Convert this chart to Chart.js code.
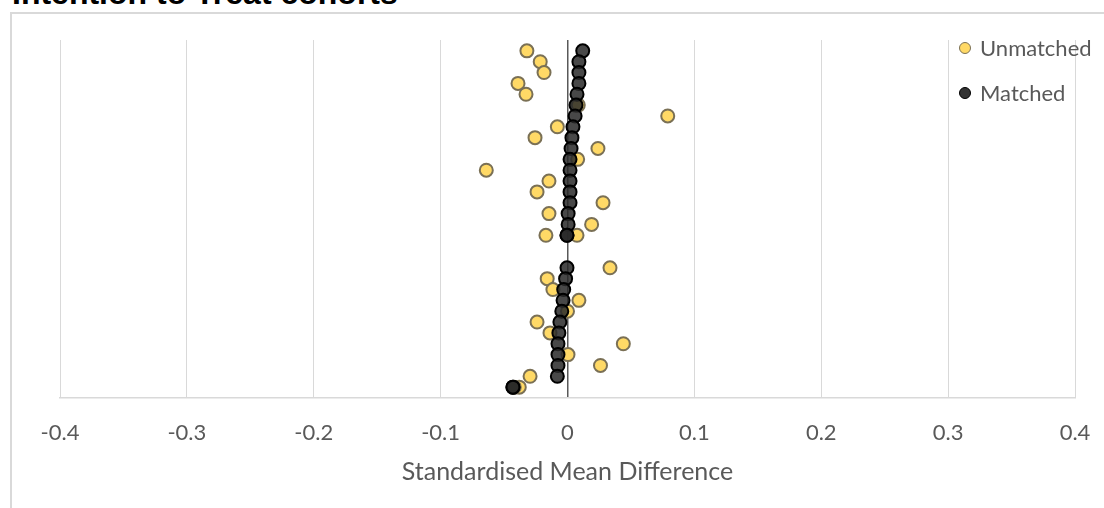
<!DOCTYPE html>
<html>
<head>
<meta charset="utf-8">
<script src="https://cdn.jsdelivr.net/npm/chart.js@4.4.1/dist/chart.umd.min.js"></script>
<style>
  body { margin: 0; width: 1104px; height: 508px; overflow: hidden; position: relative; background: #fff; }
  #title { position: absolute; left: 12px; top: -22px; font: bold 32px "Liberation Sans", Arial, sans-serif; line-height: 31px; color: #000; white-space: nowrap; }
  #frame { position: absolute; left: 10px; top: 12px; width: 1200px; height: 600px; border-left: 2px solid #d9d9d9; border-top: 2px solid #d9d9d9; }
  #chart { position: absolute; left: 0; top: 0; }
  #legend { position: absolute; left: 959px; top: 25px; font: 22px Lato, sans-serif; color: #595959; }
  .item { height: 45px; display: flex; align-items: center; }
  .mark { width: 10px; height: 10px; border-radius: 50%; margin-right: 9px; border: 1.5px solid; }
</style>
</head>
<body>
<div id="title">Intention to Treat cohorts</div>
<div id="frame"></div>
<canvas id="chart" width="1104" height="508"></canvas>
<div id="legend">
  <div class="item"><span class="mark" style="background:#ffd966;border-color:#7a7055"></span>Unmatched</div>
  <div class="item"><span class="mark" style="background:#333;border-color:#000"></span>Matched</div>
</div>
<script>
// row position of each covariate (1 = top), 19 and 20 are empty
const rows = [1, 2, 3, 4, 5, 6, 7, 8, 9, 10, 11, 12, 13, 14, 15, 16, 17, 18, 18,
  21, 22, 23, 24, 25, 26, 27, 28, 29, 30, 31, 32, 32];

const smdUnmatched = [-0.032, -0.0215, -0.0185, -0.039, -0.0327, 0.0085, 0.079, -0.008, -0.0256, 0.024,
  0.008, -0.064, -0.0146, -0.024, 0.028, -0.0146, 0.019, -0.017, 0.0075,
  0.0335, -0.016, -0.0115, 0.009, 0.0, -0.024, -0.0138, 0.044, 0.0004, 0.026, -0.0295, -0.038, -0.042];

const smdMatched = [0.012, 0.009, 0.009, 0.009, 0.0075, 0.0067, 0.006, 0.0043, 0.0035, 0.0028,
  0.002, 0.002, 0.002, 0.002, 0.002, 0.0005, 0.0005, -0.0004, -0.0004,
  -0.0004, -0.0015, -0.003, -0.0035, -0.0045, -0.006, -0.0068, -0.0075, -0.0075, -0.0075, -0.008, -0.043, -0.043];

const xTicks = [-0.4, -0.3, -0.2, -0.1, 0, 0.1, 0.2, 0.3, 0.4];

const grey = '#595959';
const font = 'Lato, sans-serif';

const data = {
  datasets: [
    {
      label: 'Unmatched',
      data: smdUnmatched.map((v, i) => ({x: v, y: rows[i]})),
      backgroundColor: '#ffd966',
      borderColor: '#7a7055',
      order: 1,
    },
    {
      label: 'Matched',
      data: smdMatched.map((v, i) => ({x: v, y: rows[i]})),
      backgroundColor: 'rgba(40, 40, 40, 0.85)',
      borderColor: '#000',
      order: 0,
    }
  ]
};

const config = {
  type: 'scatter',
  data: data,
  options: {
    responsive: false,
    devicePixelRatio: 1,
    animation: false,
    layout: { padding: { left: 60, right: 29, top: 40, bottom: 0 } },
    elements: { point: { radius: 6.5, borderWidth: 2, hoverRadius: 6.5 } },
    scales: {
      x: {
        type: 'linear',
        min: -0.4,
        max: 0.4,
        afterBuildTicks: s => { s.ticks = xTicks.map(v => ({value: v})); },
        afterFit: s => {
          s.height = 110;
          s.paddingLeft = 0;
          s.paddingRight = 0;
        },
        ticks: {
          padding: 22,
          color: grey,
          font: { family: font, size: 22 },
          callback: v => String(+v.toFixed(1)),
        },
        grid: {
          drawTicks: false,
          color: c => Math.abs(c.tick.value) < 1e-9 ? grey : '#d9d9d9',
          lineWidth: c => Math.abs(c.tick.value) < 1e-9 ? 1.5 : 1,
        },
        border: { color: '#d9d9d9', width: 1.5 },
        title: {
          display: true,
          text: 'Standardised Mean Difference',
          color: grey,
          font: { family: font, size: 25 },
          padding: { top: 0, bottom: 21 },
        },
      },
      y: {
        type: 'linear',
        min: 0,
        max: 33,
        reverse: true,
        display: false,
      },
    },
    plugins: {
      legend: { display: false },
      tooltip: { enabled: false },
    }
  },
};

new Chart(document.getElementById('chart'), config);
</script>
</body>
</html>
